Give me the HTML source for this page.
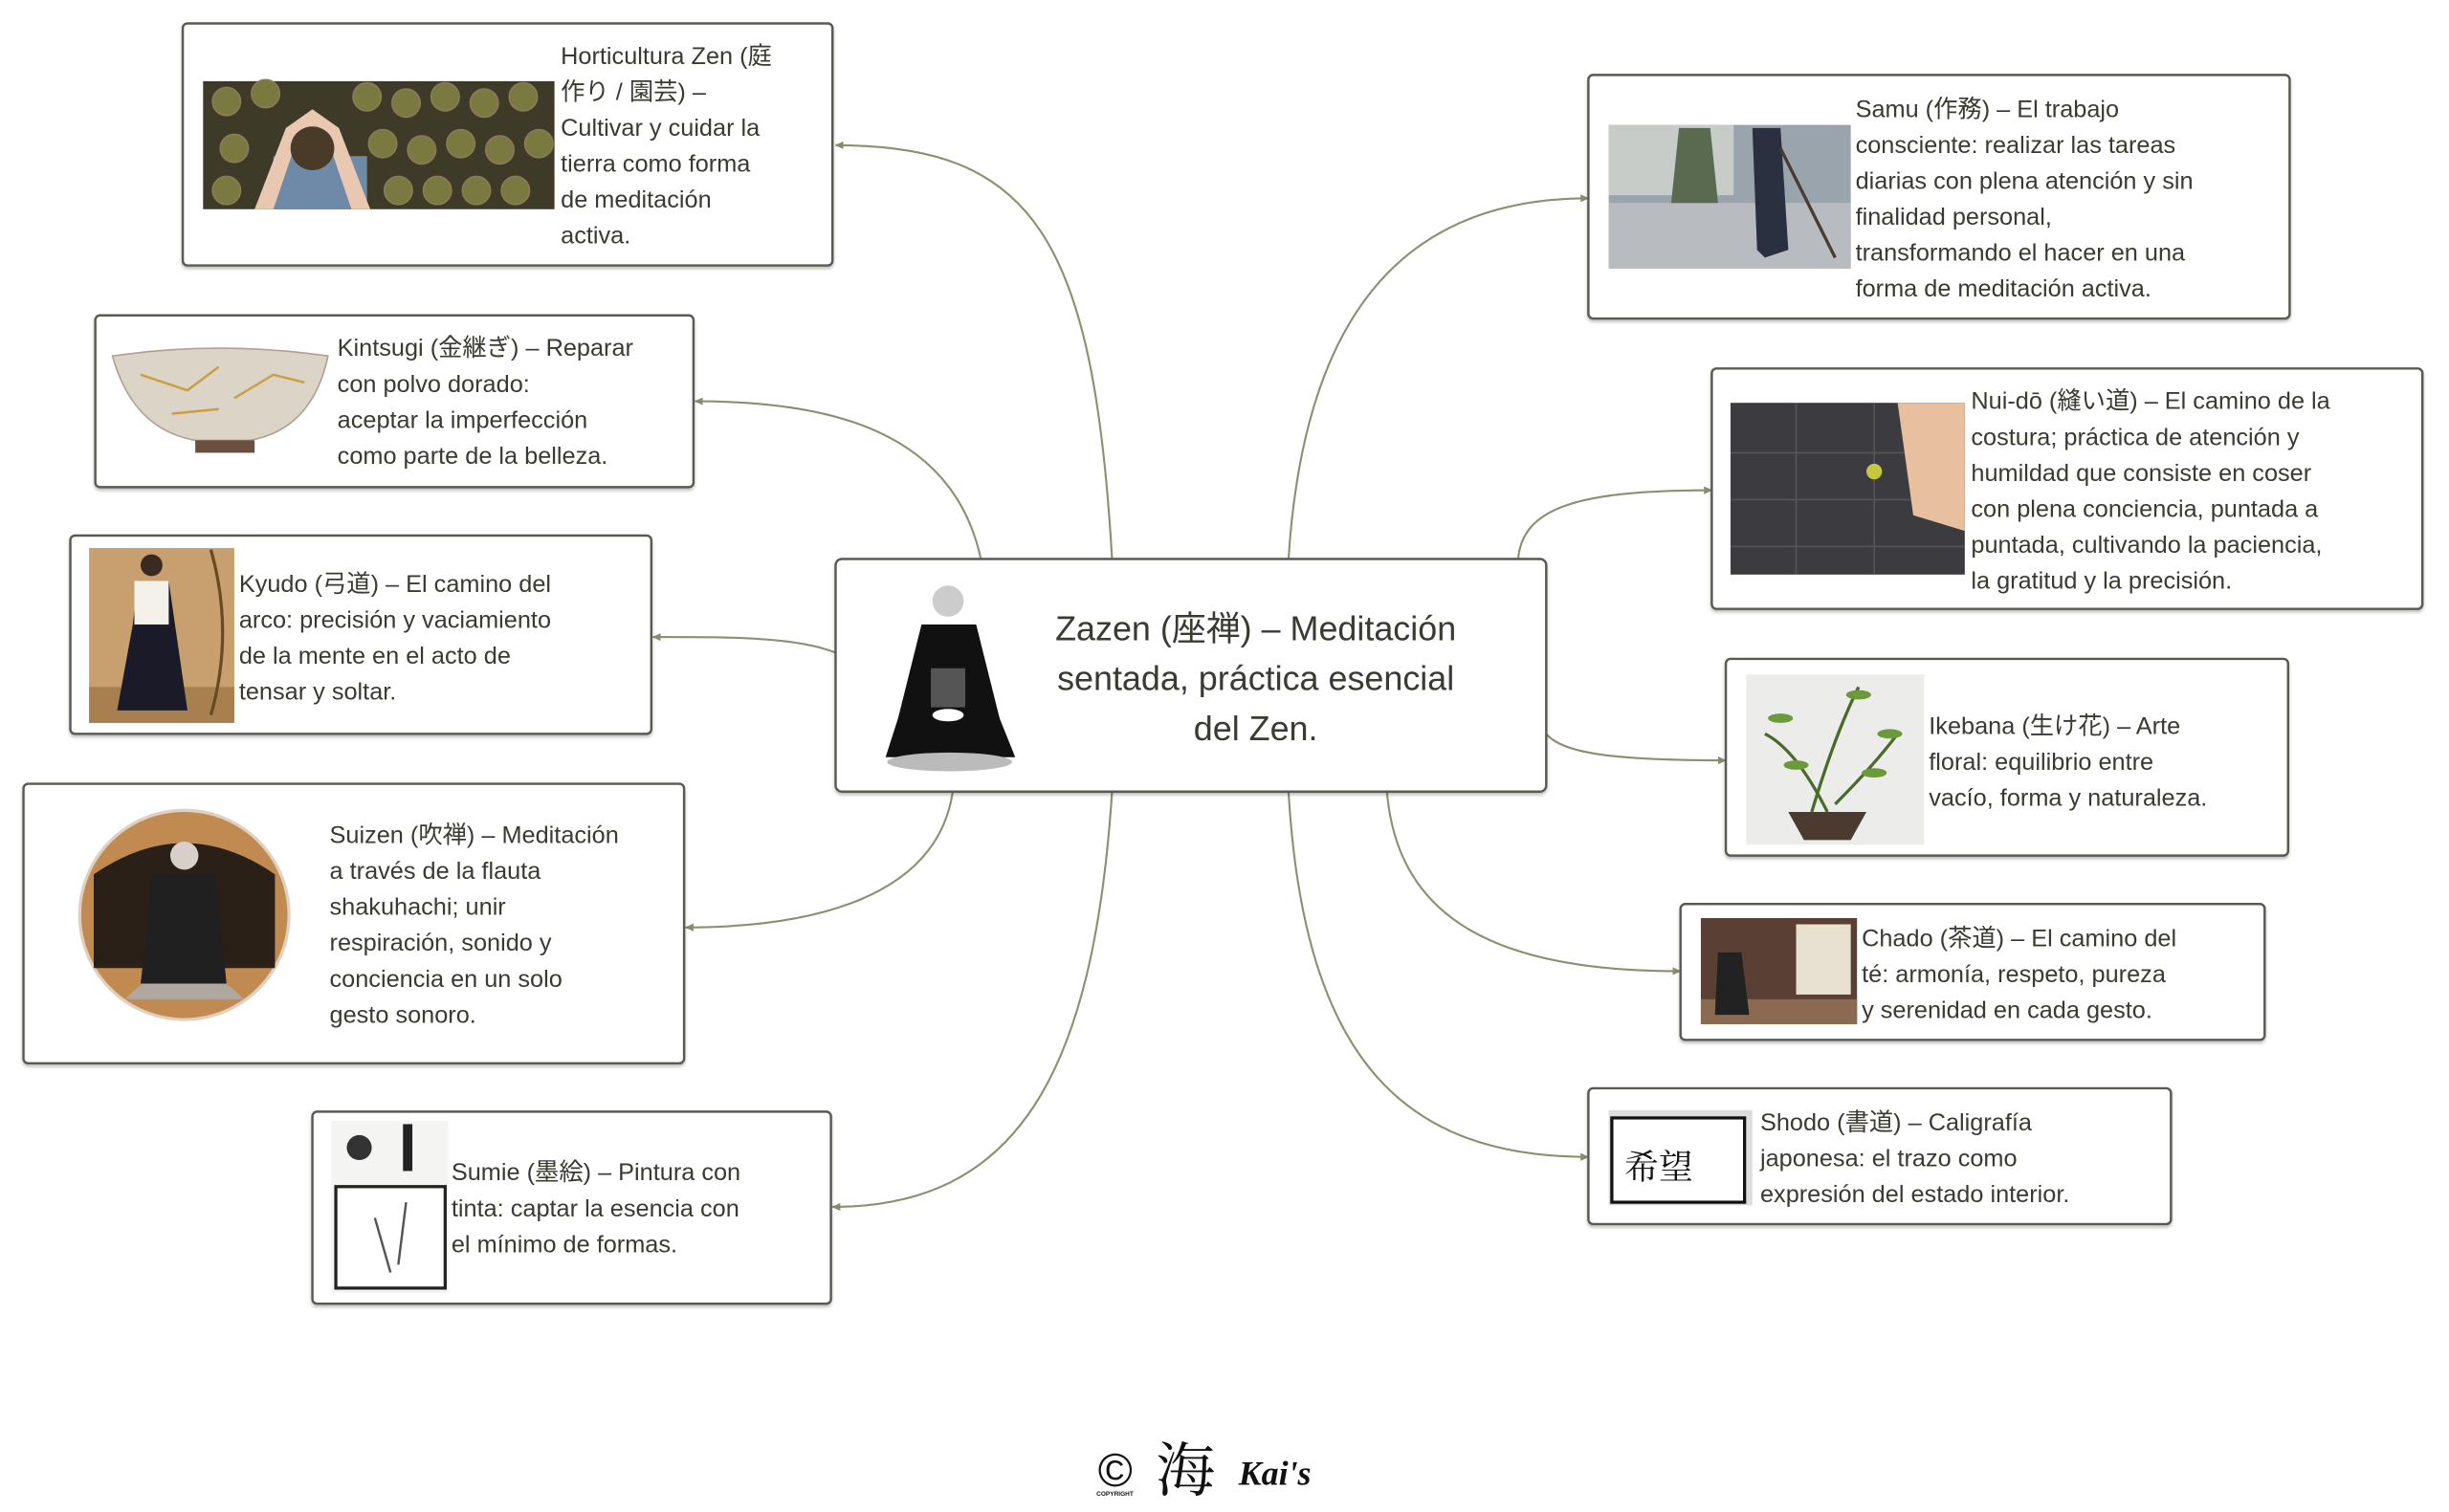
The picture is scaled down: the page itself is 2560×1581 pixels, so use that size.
<!DOCTYPE html>
<html><head><meta charset="utf-8">
<style>
html,body{margin:0;padding:0;background:#fff;}
svg{display:block;}
text{font-family:"Liberation Sans","Noto Sans CJK JP",sans-serif;fill:#3a3a30;}
</style></head>
<body>
<svg width="2560" height="1581" viewBox="0 0 1568 968.4" xmlns="http://www.w3.org/2000/svg">
<defs>
<marker id="ar" markerWidth="6" markerHeight="6" refX="5" refY="3" orient="auto" markerUnits="userSpaceOnUse">
<path d="M0,0.5 L5.5,3 L0,5.5 z" fill="#8a8a6c"/>
</marker>
<filter id="sh" x="-5%" y="-5%" width="110%" height="115%"><feDropShadow dx="0" dy="1.5" stdDeviation="1" flood-color="#000" flood-opacity="0.25"/></filter>
</defs>
<g fill="none" stroke="#8e8e70" stroke-width="1.3" marker-end="url(#ar)">
<path d="M712,358 C700,150 660,93 535,93"/>
<path d="M628,358 C610,275 530,257 445,257"/>
<path d="M535,418 C510,408 470,408 418,408"/>
<path d="M610,507 C600,575 520,594 439,594"/>
<path d="M712,507 C700,690 650,773 533,773"/>
<path d="M825,358 C835,200 900,127 1017,127"/>
<path d="M972,358 C975,325 1010,314 1096,314"/>
<path d="M990,470 C1000,482 1030,487 1105,487"/>
<path d="M888,507 C895,590 960,622 1076,622"/>
<path d="M825,507 C835,680 900,741 1017,741"/>
</g>
<g fill="#fff" stroke="#5a5a52" stroke-width="1.5" filter="url(#sh)">
<rect x="117" y="15" width="416" height="155" rx="3"/>
<rect x="61" y="202" width="383" height="110" rx="3"/>
<rect x="45" y="343" width="372" height="127" rx="3"/>
<rect x="15" y="502" width="423" height="179" rx="3"/>
<rect x="200" y="712" width="332" height="123" rx="3"/>
<rect x="535" y="358" width="455" height="149" rx="4"/>
<rect x="1017" y="48" width="449" height="156" rx="3"/>
<rect x="1096" y="236" width="455" height="154" rx="3"/>
<rect x="1105" y="422" width="360" height="126" rx="3"/>
<rect x="1076" y="579" width="374" height="87" rx="3"/>
<rect x="1017" y="697" width="373" height="87" rx="3"/>
</g>
<!-- images -->
<rect x="130" y="52" width="225" height="82" fill="#3d3a28"/>
<g fill="#7a7a40" stroke="#8a7a5a" stroke-width="1">
<circle cx="145" cy="65" r="9"/><circle cx="170" cy="60" r="9"/><circle cx="235" cy="62" r="9"/><circle cx="260" cy="66" r="9"/><circle cx="285" cy="62" r="9"/><circle cx="310" cy="66" r="9"/><circle cx="335" cy="62" r="9"/>
<circle cx="150" cy="95" r="9"/><circle cx="245" cy="92" r="9"/><circle cx="270" cy="96" r="9"/><circle cx="295" cy="92" r="9"/><circle cx="320" cy="96" r="9"/><circle cx="345" cy="92" r="9"/>
<circle cx="145" cy="122" r="9"/><circle cx="255" cy="122" r="9"/><circle cx="280" cy="122" r="9"/><circle cx="305" cy="122" r="9"/><circle cx="330" cy="122" r="9"/>
</g>
<rect x="175" y="100" width="60" height="34" fill="#6f8aa8"/>
<path d="M163,134 L183,82 L200,70 L217,82 L237,134 L225,134 L210,90 L190,90 L175,134z" fill="#e8c8b0"/>
<circle cx="200" cy="95" r="14" fill="#4a3a28"/>
<path d="M72,228 Q140,218 210,228 Q200,275 160,282 L125,282 Q85,275 72,228z" fill="#ddd4c8" stroke="#b0a090"/>
<path d="M90,240 L120,250 L140,235 M150,255 L175,240 L195,245 M110,265 L140,262" stroke="#c8a040" stroke-width="1.5" fill="none"/>
<rect x="125" y="282" width="38" height="8" fill="#6a5040"/>
<rect x="57" y="351" width="93" height="112" fill="#c8a070"/>
<rect x="57" y="440" width="93" height="23" fill="#a88050"/>
<path d="M88,372 L108,372 L112,400 L120,455 L75,455 L85,400z" fill="#1a1a28"/>
<rect x="86" y="372" width="22" height="28" fill="#f4f0ea"/>
<circle cx="97" cy="362" r="7" fill="#3a2a20"/>
<path d="M135,352 Q150,405 135,458" stroke="#6a4a20" stroke-width="2" fill="none"/>
<circle cx="118" cy="586" r="67" fill="#c08a50"/>
<circle cx="118" cy="586" r="67" fill="none" stroke="#e0d0c0" stroke-width="2"/>
<path d="M60,560 Q118,520 176,560 L176,620 L60,620z" fill="#2a2018"/>
<path d="M80,640 Q118,600 156,640z" fill="#b0a8a0"/>
<path d="M98,560 L138,560 L145,630 L90,630z" fill="#202020"/>
<circle cx="118" cy="548" r="9" fill="#d8d0c8"/>
<rect x="212" y="718" width="75" height="110" fill="#f4f4f2"/>
<rect x="215" y="760" width="70" height="65" fill="#fff" stroke="#222" stroke-width="2"/>
<path d="M240,780 L250,815 M260,770 L255,810" stroke="#555" stroke-width="1.5"/>
<rect x="258" y="720" width="6" height="30" fill="#222"/>
<circle cx="230" cy="735" r="8" fill="#333"/>
<rect x="1030" y="80" width="155" height="92" fill="#9aa4ac"/>
<rect x="1030" y="80" width="80" height="45" fill="#c8ccc8"/>
<rect x="1030" y="130" width="155" height="42" fill="#b8bcc0"/>
<path d="M1075,82 L1095,82 L1100,130 L1070,130z" fill="#5a6a50"/>
<path d="M1122,82 L1140,82 L1145,160 L1130,165 L1125,160z" fill="#2a3040"/>
<path d="M1140,95 L1175,165" stroke="#4a3a30" stroke-width="2"/>
<rect x="1108" y="258" width="150" height="110" fill="#3c3c40"/>
<path d="M1108,290 L1258,290 M1108,320 L1258,320 M1108,350 L1258,350 M1150,258 L1150,368 M1200,258 L1200,368" stroke="#555" stroke-width="1"/>
<path d="M1215,258 L1258,258 L1258,340 L1225,330z" fill="#e8c0a0"/>
<circle cx="1200" cy="302" r="5" fill="#c8c840"/>
<rect x="1118" y="432" width="114" height="109" fill="#ececea"/>
<path d="M1160,520 Q1175,470 1190,440 M1170,520 Q1150,480 1130,470 M1175,515 Q1200,490 1215,470" stroke="#4a6a2a" stroke-width="2" fill="none"/>
<g fill="#6a9a3a"><ellipse cx="1140" cy="460" rx="8" ry="3"/><ellipse cx="1190" cy="445" rx="8" ry="3"/><ellipse cx="1210" cy="470" rx="8" ry="3"/><ellipse cx="1150" cy="490" rx="8" ry="3"/><ellipse cx="1200" cy="495" rx="8" ry="3"/></g>
<path d="M1145,520 L1195,520 L1185,538 L1155,538z" fill="#4a3a30"/>
<rect x="1089" y="588" width="100" height="68" fill="#5a4034"/>
<rect x="1150" y="592" width="35" height="45" fill="#e8e0d0"/>
<rect x="1089" y="640" width="100" height="16" fill="#8a6a50"/>
<path d="M1100,610 L1115,610 L1120,650 L1098,650z" fill="#222"/>
<rect x="1030" y="711" width="92" height="61" fill="#ddd"/>
<rect x="1032" y="716" width="85" height="54" fill="#fff" stroke="#111" stroke-width="2"/>
<text x="1040" y="755" style="font-size:22px;fill:#111;font-family:'Noto Serif CJK SC',serif">希望</text>
<!-- monk -->
<path d="M590,400 L625,400 L640,460 L650,485 L567,485 L575,460z" fill="#111"/>
<ellipse cx="608" cy="488" rx="40" ry="6" fill="#bbb"/>
<circle cx="607" cy="385" r="10" fill="#ccc"/>
<rect x="596" y="428" width="22" height="25" fill="#555"/>
<ellipse cx="607" cy="458" rx="10" ry="4" fill="#fff"/>
<!-- texts -->
<g style="font-size:15.5px">
<text x="359" y="41"><tspan x="359">Horticultura Zen (庭</tspan><tspan x="359" dy="23">作り / 園芸) –</tspan><tspan x="359" dy="23">Cultivar y cuidar la</tspan><tspan x="359" dy="23">tierra como forma</tspan><tspan x="359" dy="23">de meditación</tspan><tspan x="359" dy="23">activa.</tspan></text>
<text x="216" y="228"><tspan x="216">Kintsugi (金継ぎ) – Reparar</tspan><tspan x="216" dy="23">con polvo dorado:</tspan><tspan x="216" dy="23">aceptar la imperfección</tspan><tspan x="216" dy="23">como parte de la belleza.</tspan></text>
<text x="153" y="379"><tspan x="153">Kyudo (弓道) – El camino del</tspan><tspan x="153" dy="23">arco: precisión y vaciamiento</tspan><tspan x="153" dy="23">de la mente en el acto de</tspan><tspan x="153" dy="23">tensar y soltar.</tspan></text>
<text x="211" y="540"><tspan x="211">Suizen (吹禅) – Meditación</tspan><tspan x="211" dy="23">a través de la flauta</tspan><tspan x="211" dy="23">shakuhachi; unir</tspan><tspan x="211" dy="23">respiración, sonido y</tspan><tspan x="211" dy="23">conciencia en un solo</tspan><tspan x="211" dy="23">gesto sonoro.</tspan></text>
<text x="289" y="756"><tspan x="289">Sumie (墨絵) – Pintura con</tspan><tspan x="289" dy="23">tinta: captar la esencia con</tspan><tspan x="289" dy="23">el mínimo de formas.</tspan></text>
<text x="1188" y="75"><tspan x="1188">Samu (作務) – El trabajo</tspan><tspan x="1188" dy="23">consciente: realizar las tareas</tspan><tspan x="1188" dy="23">diarias con plena atención y sin</tspan><tspan x="1188" dy="23">finalidad personal,</tspan><tspan x="1188" dy="23">transformando el hacer en una</tspan><tspan x="1188" dy="23">forma de meditación activa.</tspan></text>
<text x="1262" y="262"><tspan x="1262">Nui-dō (縫い道) – El camino de la</tspan><tspan x="1262" dy="23">costura; práctica de atención y</tspan><tspan x="1262" dy="23">humildad que consiste en coser</tspan><tspan x="1262" dy="23">con plena conciencia, puntada a</tspan><tspan x="1262" dy="23">puntada, cultivando la paciencia,</tspan><tspan x="1262" dy="23">la gratitud y la precisión.</tspan></text>
<text x="1235" y="470"><tspan x="1235">Ikebana (生け花) – Arte</tspan><tspan x="1235" dy="23">floral: equilibrio entre</tspan><tspan x="1235" dy="23">vacío, forma y naturaleza.</tspan></text>
<text x="1192" y="606"><tspan x="1192">Chado (茶道) – El camino del</tspan><tspan x="1192" dy="23">té: armonía, respeto, pureza</tspan><tspan x="1192" dy="23">y serenidad en cada gesto.</tspan></text>
<text x="1127" y="724"><tspan x="1127">Shodo (書道) – Caligrafía</tspan><tspan x="1127" dy="23">japonesa: el trazo como</tspan><tspan x="1127" dy="23">expresión del estado interior.</tspan></text>
</g>
<text text-anchor="middle" style="font-size:22px"><tspan x="804" y="410">Zazen (座禅) – Meditación</tspan><tspan x="804" y="442">sentada, práctica esencial</tspan><tspan x="804" y="474">del Zen.</tspan></text>
<text x="703" y="952" style="font-size:30px;fill:#111">©</text>
<text x="702" y="958" style="font-size:4px;fill:#111;font-weight:bold">COPYRIGHT</text>
<text x="740" y="955" style="font-size:38px;fill:#111;font-family:'Noto Serif CJK SC',serif">海</text>
<text x="793" y="951" style="font-size:22px;fill:#111;font-style:italic;font-family:'Liberation Serif',serif;font-weight:bold">Kai's</text>
</svg>
</body></html>
